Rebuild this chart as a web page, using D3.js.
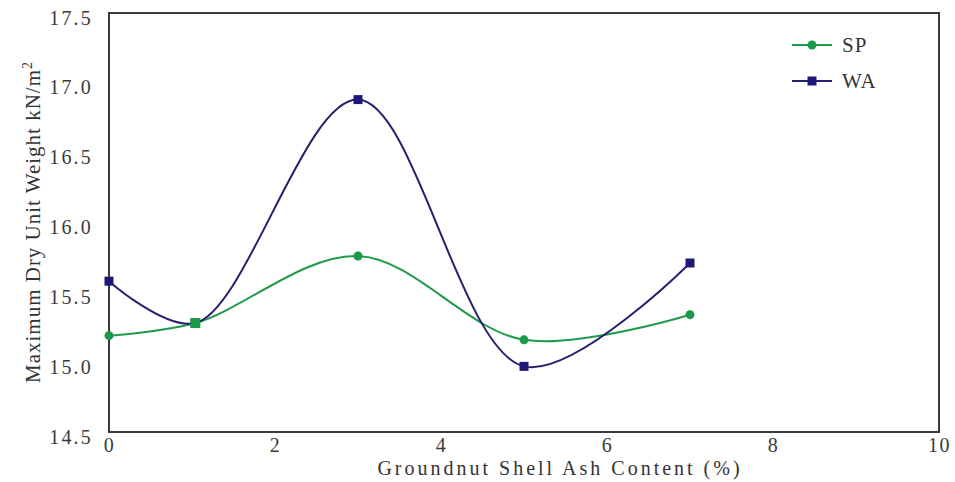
<!DOCTYPE html>
<html>
<head>
<meta charset="utf-8">
<script src="https://cdn.jsdelivr.net/npm/d3@7"></script>
<style>
html,body{margin:0;padding:0;background:#fff;}
svg{display:block;}
</style>
</head>
<body>
<svg id="chart" width="955" height="482"></svg>
<script>
// Data
const xValues = [0, 1.04, 3, 5, 7];
const spValues = [15.19, 15.28, 15.76, 15.16, 15.34];
const waValues = [15.58, 15.28, 16.88, 14.97, 15.71];
const xTicks = [0, 2, 4, 6, 8, 10];
const yTicks = [14.5, 15.0, 15.5, 16.0, 16.5, 17.0, 17.5];
const seriesNames = ["SP", "WA"];
const seriesColors = ["#1f9a4c", "#27206e"];
const markerColors = ["#1a9a48", "#1e1878"];

const FONT = '"Liberation Serif", "Times New Roman", "DejaVu Serif", serif';

const svg = d3.select("#chart").attr("font-family", FONT);
const plotL = 109, plotR = 939, plotT = 13, plotB = 432;

const x = d3.scaleLinear().domain([0, 10]).range([plotL, plotR]);
const y = d3.scaleLinear().domain([14.5, 17.5]).range([plotB, plotT]);

// Frame
svg.append("rect")
  .attr("x", plotL).attr("y", plotT)
  .attr("width", plotR - plotL).attr("height", plotB - plotT)
  .attr("fill", "none").attr("stroke", "#3a3a3a").attr("stroke-width", 2);

// Axes (labels only)
const xAxis = svg.append("g").attr("transform", `translate(0,${plotB})`)
  .call(d3.axisBottom(x).tickValues(xTicks).tickSize(0).tickPadding(0).tickFormat(d3.format("d")));
xAxis.attr("font-family", FONT).attr("font-size", 20);
xAxis.select(".domain").remove();
xAxis.selectAll("text")
  .attr("dy", null).attr("y", 20)
  .attr("letter-spacing", 1.5)
  .attr("fill", "#3a3a3a");

const yAxis = svg.append("g").attr("transform", `translate(${plotL},0)`)
  .call(d3.axisLeft(y).tickValues(yTicks).tickSize(0).tickPadding(0).tickFormat(d3.format(".1f")));
yAxis.attr("font-family", FONT).attr("font-size", 20);
yAxis.select(".domain").remove();
yAxis.selectAll("text")
  .attr("x", -16).attr("dy", null).attr("y", 11)
  .attr("letter-spacing", 2.2)
  .attr("fill", "#3a3a3a");

// Axis titles
svg.append("text")
  .attr("x", 560).attr("y", 475)
  .attr("text-anchor", "middle")
  .attr("font-size", 20).attr("letter-spacing", 3)
  .attr("fill", "#333")
  .text("Groundnut Shell Ash Content (%)");

const yt = svg.append("text")
  .attr("transform", "translate(40,222) rotate(-90)")
  .attr("text-anchor", "middle")
  .attr("font-size", 21).attr("letter-spacing", 1.0)
  .attr("fill", "#333");
yt.append("tspan").text("Maximum Dry Unit Weight kN/m");
yt.append("tspan").attr("dy", -8).attr("font-size", 14).text("2");

// Lines
const series = [spValues, waValues];
const line = d3.line()
  .x((d, i) => x(xValues[i]))
  .y(d => y(d))
  .curve(d3.curveCatmullRom.alpha(0.5));

series.forEach((vals, s) => {
  svg.append("path")
    .datum(vals)
    .attr("d", line)
    .attr("fill", "none")
    .attr("stroke", seriesColors[s])
    .attr("stroke-width", 2);
});

// Markers
svg.append("g").selectAll("circle").data(spValues).join("circle")
  .attr("cx", (d, i) => x(xValues[i])).attr("cy", d => y(d))
  .attr("r", 4.5).attr("fill", markerColors[0]);
svg.append("g").selectAll("rect").data(waValues).join("rect")
  .attr("x", (d, i) => x(xValues[i]) - 4.5).attr("y", d => y(d) - 4.5)
  .attr("width", 9).attr("height", 9).attr("fill", markerColors[1]);
svg.append("rect")
  .attr("x", x(xValues[1]) - 5).attr("y", y(spValues[1]) - 5)
  .attr("width", 10).attr("height", 10).attr("fill", markerColors[0]);

// Legend
const legendY = [45, 81];
seriesNames.forEach((name, s) => {
  const g = svg.append("g");
  g.append("line").attr("x1", 792).attr("x2", 832)
    .attr("y1", legendY[s]).attr("y2", legendY[s])
    .attr("stroke", seriesColors[s]).attr("stroke-width", 2);
  if (s === 0) {
    g.append("circle").attr("cx", 812).attr("cy", legendY[s]).attr("r", 4.5).attr("fill", markerColors[s]);
  } else {
    g.append("rect").attr("x", 807.5).attr("y", legendY[s] - 4.5).attr("width", 9).attr("height", 9).attr("fill", markerColors[s]);
  }
  g.append("text").attr("x", 842).attr("y", legendY[s] + 7)
    .attr("font-size", 21).attr("letter-spacing", 1).attr("fill", "#333").text(name);
});
</script>
</body>
</html>
